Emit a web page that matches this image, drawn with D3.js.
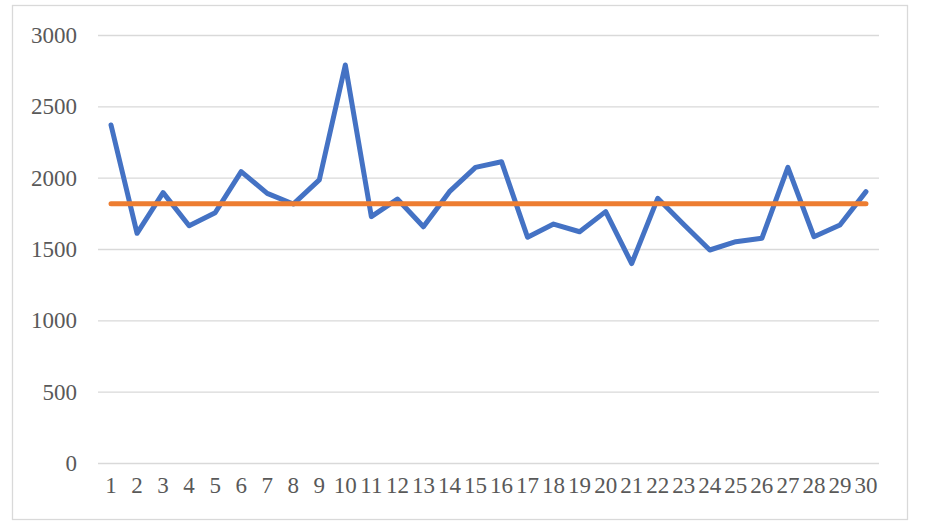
<!DOCTYPE html>
<html><head><meta charset="utf-8">
<script src="https://cdn.jsdelivr.net/npm/d3@7"></script>
<style>html,body{margin:0;padding:0;background:#fff;} svg{display:block;}</style>
</head><body>
<svg id="c" width="926" height="528"></svg>
<script>
const categories = d3.range(1, 31).map(String);
const seriesValues = [2369,1610,1895,1663,1754,2042,1890,1815,1984,2790,
                      1727,1850,1656,1902,2072,2112,1582,1675,1621,1762,
                      1398,1855,1672,1493,1551,1575,2072,1586,1668,1902];
const averageValues = [1818,1818,1818,1818,1818,1818,1818,1818,1818,1818,
                       1818,1818,1818,1818,1818,1818,1818,1818,1818,1818,
                       1818,1818,1818,1818,1818,1818,1818,1818,1818,1818];
const yTicks = [0,500,1000,1500,2000,2500,3000];

(function(){
const svg = d3.select("#c");
const mLeft = 98, mRight = 879, mTop = 35, mBottom = 463;

svg.append("rect").attr("x",12.5).attr("y",5.5).attr("width",895).attr("height",514)
  .attr("fill","#fff").attr("stroke","#d9d9d9").attr("stroke-width",1.3);

const x = d3.scaleBand().domain(categories).range([mLeft,mRight]);
const y = d3.scaleLinear().domain([0,3000]).range([mBottom,mTop]);

const font = "'Liberation Serif','Times New Roman',serif";
const yAxis = svg.append("g").attr("transform",`translate(${mLeft},0)`)
  .call(d3.axisLeft(y).tickValues(yTicks).tickSize(-(mRight-mLeft)).tickPadding(21).tickFormat(d3.format("d")));
yAxis.select(".domain").remove();
yAxis.selectAll("line").attr("stroke","#d9d9d9").attr("stroke-width",1.3);
yAxis.selectAll("text").attr("fill","#595959").style("font-family",font).style("font-size","23px");

const xAxis = svg.append("g").attr("transform",`translate(0,${mBottom})`)
  .call(d3.axisBottom(x).tickSize(0).tickPadding(14));
xAxis.select(".domain").remove();
xAxis.selectAll("text").attr("fill","#595959").style("font-family",font).style("font-size","23px");

const line = d3.line().x((d,i)=>x(categories[i])+x.bandwidth()/2).y(d=>y(d));
svg.append("path").datum(seriesValues).attr("d",line).attr("fill","none")
  .attr("stroke","#4472C4").attr("stroke-width",5).attr("stroke-linejoin","round").attr("stroke-linecap","round");
svg.append("path").datum(averageValues).attr("d",line).attr("fill","none")
  .attr("stroke","#ED7D31").attr("stroke-width",5).attr("stroke-linejoin","round").attr("stroke-linecap","round");
})();
</script>
</body></html>
